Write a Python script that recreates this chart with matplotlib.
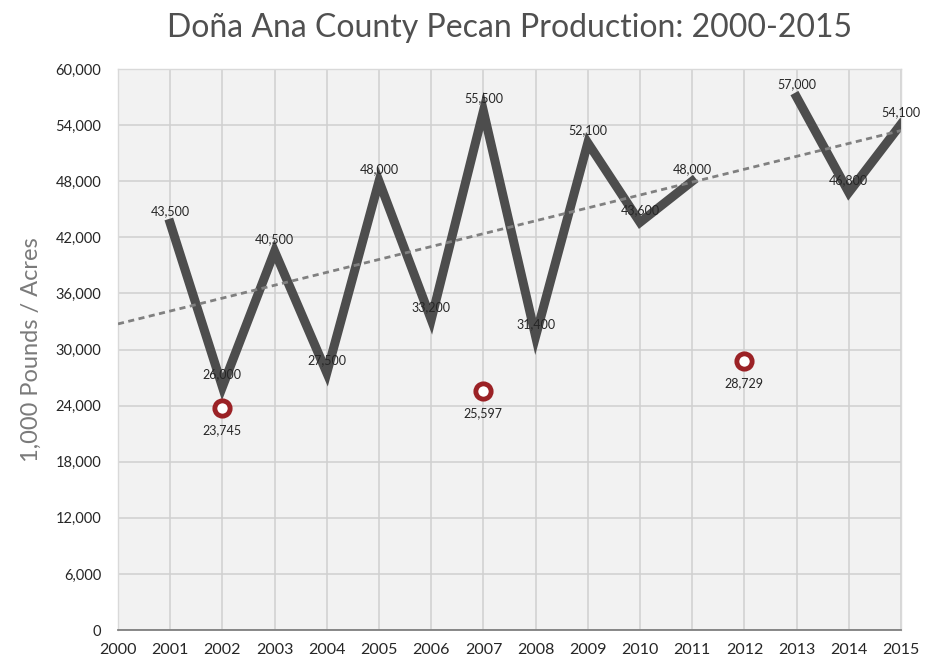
import matplotlib
matplotlib.use("Agg")
import matplotlib.pyplot as plt
import numpy as np
from matplotlib.ticker import FuncFormatter, MultipleLocator

plt.rcParams['font.family'] = ['Lato', 'DejaVu Sans']

years = [2001, 2002, 2003, 2004, 2005, 2006, 2007, 2008, 2009, 2010, 2011, 2012, 2013, 2014, 2015]
production = [43500, 26000, 40500, 27500, 48000, 33200, 55500, 31400, 52100, 43600, 48000, np.nan, 57000, 46800, 54100]
acre_years = [2002, 2007, 2012]
acres = [23745, 25597, 28729]
xticks = list(range(2000, 2016))

fig = plt.figure(figsize=(9.27, 6.61), dpi=100)
ax = fig.add_axes([118/927, 1-630/661, (901-118)/927, (630-69)/661])
ax.set_facecolor('#f2f2f2')

ax.set_xlim(2000, 2015)
ax.set_ylim(0, 60000)
ax.yaxis.set_major_locator(MultipleLocator(6000))
ax.set_xticks(xticks)
ax.yaxis.set_major_formatter(FuncFormatter(lambda v, p: f"{int(v):,}"))
ax.grid(True, color='#d0d0d0', linewidth=1.1)
ax.set_axisbelow(True)
for s in ['top', 'left', 'right']:
    ax.spines[s].set_color('#d9d9d9')
    ax.spines[s].set_linewidth(1)
ax.spines['bottom'].set_color('#7f7f7f')
ax.spines['bottom'].set_linewidth(1.3)
ax.tick_params(axis='y', length=0, labelsize=10.5, colors='#262626', pad=12)
ax.tick_params(axis='x', length=0, labelsize=11.5, colors='#262626', pad=9)

yv = np.array(production, dtype=float)
xv = np.array(years, dtype=float)
ax.plot(xv, yv, color='#4d4d4d', linewidth=6.5, solid_joinstyle='miter', zorder=3)

mask = ~np.isnan(yv)
k, b = np.polyfit(xv[mask], yv[mask], 1)
tx = np.array([2000, 2015])
ax.plot(tx, k*tx + b, color='#808080', linestyle=(0, (2.2, 1.6)), linewidth=2, zorder=4)

ax.plot(acre_years, acres, linestyle='none', marker='o', markersize=11,
        markerfacecolor='white', markeredgecolor='#9b2226', markeredgewidth=3.5, zorder=5)

for x, y in zip(years, production):
    if np.isnan(y):
        continue
    ax.annotate(f"{int(y):,}", (x, y), xytext=(0, 9), textcoords='offset points',
                ha='center', va='center', fontsize=9, color='#262626', zorder=6)
for x, y in zip(acre_years, acres):
    ax.annotate(f"{int(y):,}", (x, y), xytext=(0, -16), textcoords='offset points',
                ha='center', va='center', fontsize=9, color='#262626', zorder=6)

ax.set_title("Doña Ana County Pecan Production: 2000-2015", fontsize=23, color='#505050',
             pad=23)
ax.set_ylabel("1,000 Pounds / Acres", fontsize=17, color='#7a7a7a', labelpad=10)

fig.savefig("out.png", dpi=100)
